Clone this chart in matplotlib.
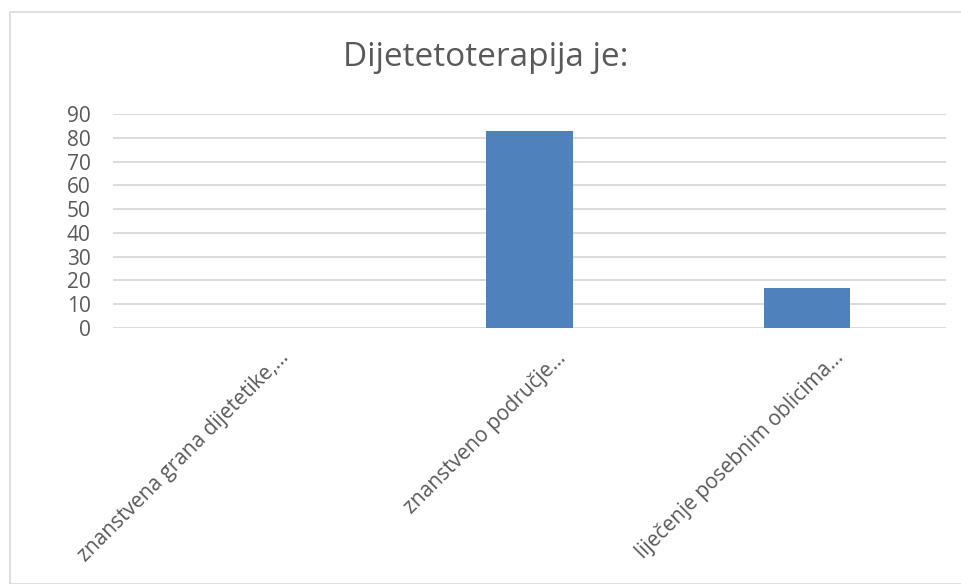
import matplotlib.pyplot as plt
import matplotlib.transforms as mtransforms
from matplotlib.patches import Rectangle

categories = ['znanstvena grana dijetetike,...', 'znanstveno područje...', 'liječenje posebnim oblicima...']
values = [0, 83, 17]
yticks = [0, 10, 20, 30, 40, 50, 60, 70, 80, 90]

plt.rcParams['font.family'] = ['Open Sans', 'DejaVu Sans']

fig = plt.figure(figsize=(9.61, 5.84), dpi=100)
W, H = 961, 584
ax = fig.add_axes([113 / W, 1 - 328 / H, (946 - 113) / W, (328 - 114) / H])

# chart frame
fig.patches.append(Rectangle((10 / W, 0), 1, 1 - 12 / H, transform=fig.transFigure,
                             fill=False, edgecolor='#D9D9D9', linewidth=1.2))

x = range(len(categories))
ax.bar(x, values, width=0.31, color='#4F81BD', zorder=3)
ax.set_xlim(-0.5, len(categories) - 0.5)
ax.set_ylim(0, 90)
ax.set_yticks(yticks)
ax.yaxis.grid(True, color='#D9D9D9', linewidth=1.3, zorder=0)
for s in ['top', 'right', 'left', 'bottom']:
    ax.spines[s].set_visible(False)
ax.tick_params(axis='both', length=0, colors='#595959', labelsize=15)
ax.tick_params(axis='y', pad=16)
ax.set_xticks(list(x))
ax.set_xticklabels(categories, rotation=45, ha='right', rotation_mode='anchor', fontsize=15)
ax.tick_params(axis='x', pad=14)
shift = mtransforms.ScaledTranslation(26 / 100, 0, fig.dpi_scale_trans)
for lbl in ax.get_xticklabels():
    lbl.set_transform(lbl.get_transform() + shift)

fig.text(0.5 * (10 + W) / W, 1 - 58 / H, 'Dijetetoterapija je:', ha='center', va='center',
         fontsize=24, color='#595959')

fig.savefig('out.png', dpi=100)
